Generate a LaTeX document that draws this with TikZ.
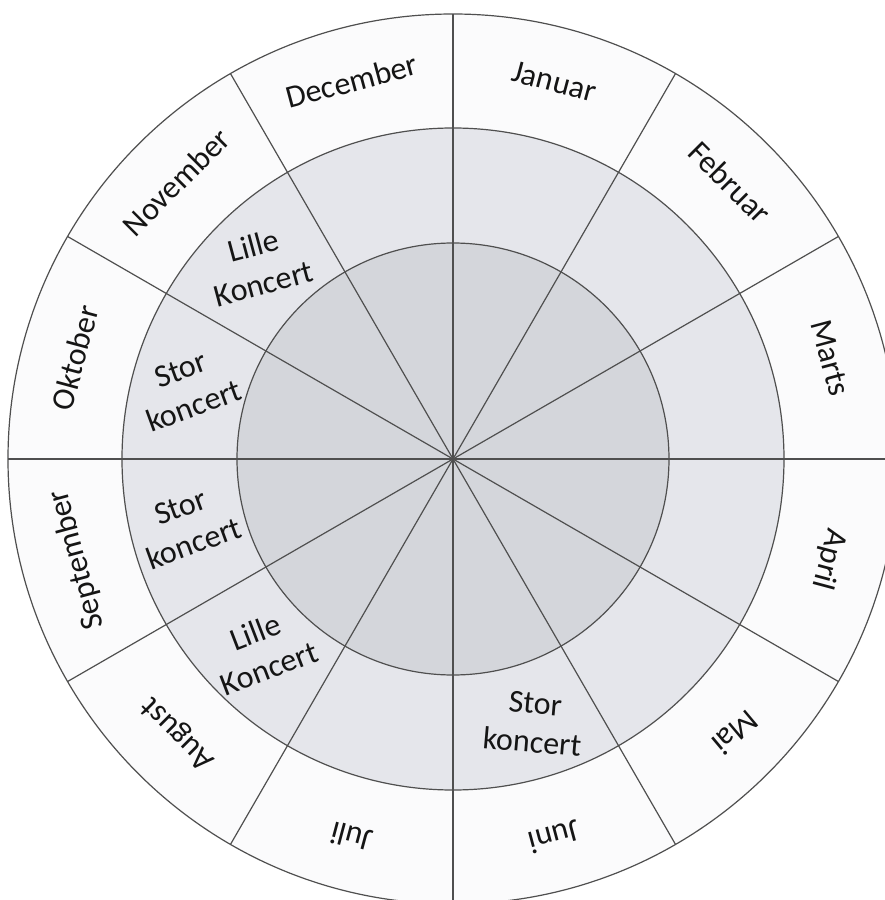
\documentclass[tikz,border=0pt]{standalone}
\usepackage{fontspec}
\setmainfont{Carlito}
\definecolor{ringmid}{HTML}{E5E6EB}
\definecolor{ringin}{HTML}{D4D6DB}
\definecolor{ringout}{HTML}{FBFBFC}
\definecolor{linec}{HTML}{4F4F4F}
\definecolor{txt}{HTML}{151515}
\begin{document}
\begin{tikzpicture}[x=1pt,y=1pt,
  month/.style={font=\fontsize{32}{38}\selectfont, text=txt, inner sep=0pt, text height=21pt, text depth=6pt},
  event/.style={font=\fontsize{32}{39}\selectfont, text=txt, align=center, inner sep=0pt},
  ring/.style={draw=linec, line width=1.2pt}]
\useasboundingbox (-453,-441) rectangle (432,459);
\fill[white] (-453,-441) rectangle (432,459);
\coordinate (c) at (0,0);
\fill[ringout] (c) circle (445);
\fill[ringmid] (c) circle (331);
\fill[ringin] (c) circle (216);
\draw[ring] (c) circle (445);
\draw[ring] (c) circle (331);
\draw[ring] (c) circle (216);
\foreach \a in {0,30,...,330} {
  \coordinate (s\a) at (\a:445);
  \draw[ring] (c) -- (s\a);
}
% months
\node[month, rotate=-15]  (jan) at (75:388)   {Januar};
\node[month, rotate=-45]  (feb) at (45:388)   {Februar};
\node[month, rotate=-75]  (mar) at (15:388)   {Marts};
\node[month, rotate=-105] (apr) at (-15:388)  {April};
\node[month, rotate=-140] (maj) at (-44:390)  {Mai};
\node[month, rotate=-165] (jun) at (-75:388)  {Juni};
\node[month, rotate=165]  (jul) at (-105:388) {Juli};
\node[month, rotate=135]  (aug) at (-135:388) {August};
\node[month, rotate=105]  (sep) at (-165:388) {September};
\node[month, rotate=75]   (okt) at (165:388)  {Oktober};
\node[month, rotate=45]   (nov) at (135:388)  {November};
\node[month, rotate=15]   (dec) at (105:388)  {December};
% events
\node[event, rotate=15]  (evnov) at (135:275)  {Lille\\Koncert};
\node[event, rotate=20]  (evokt) at (165:275)  {Stor\\koncert};
\node[event, rotate=20]  (evsep) at (-166:274) {Stor\\koncert};
\node[event, rotate=21]  (evaug) at (-135:270) {Lille\\Koncert};
\node[event, rotate=-5]  (evjun) at (-73:276)  {Stor\\koncert};
\end{tikzpicture}
\end{document}
